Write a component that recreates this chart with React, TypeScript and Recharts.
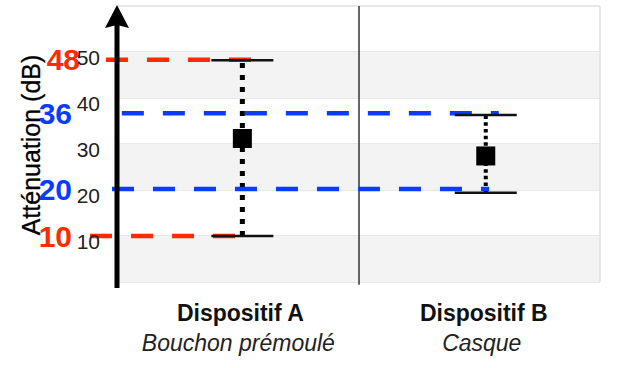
import React from 'react';
import {
  ScatterChart, Scatter, XAxis, YAxis, CartesianGrid, ReferenceLine, ReferenceArea,
} from 'recharts';

// ---- data ----
const categories = ['Dispositif A', 'Dispositif B'];
const subtitles = ['Bouchon prémoulé', 'Casque'];
const positions = [0.516, 1.526];
const lows = [10, 19.4];
const highs = [48.2, 36.3];
const means = [31.2, 27.4];

const yTicks = [0, 10, 20, 30, 40, 50, 60];
const bandLows = [0, 20, 40];
const bandHighs = [10, 30, 50];

const refValues = [48.3, 36.7, 20.2, 10];
const refLabels = ['48', '36', '20', '10'];
const refFrom = [-0.05, 0.016, -0.025, -0.116];
const refTo = [0.556, 1.58, 1.54, 0.49];
const refKinds = ['red', 'blue', 'blue', 'red'];

// ---- styles ----
const FONT = '"Liberation Sans", Arial, Helvetica, sans-serif';
const COLORS: Record<string, string> = { red: '#ff2a00', blue: '#0a3cff' };
const labelRight: Record<string, number> = { '48': 80, '36': 72, '20': 72, '10': 72 };
const dotStyles = [
  { width: 5, dash: '5 7' },
  { width: 4, dash: '3.5 3.2' },
];

const meanData = positions.map((x, i) => ({ x, y: means[i] }));
const capData = positions.flatMap((x, i) => [{ x, y: lows[i] }, { x, y: highs[i] }]);

const CapShape = (props: any) => {
  const { cx, cy } = props;
  return <line x1={cx - 31} x2={cx + 31} y1={cy} y2={cy} stroke="#111" strokeWidth={2.6} />;
};

const SquareShape = (props: any) => {
  const { cx, cy } = props;
  return <rect x={cx - 9.5} y={cy - 9.5} width={19} height={19} fill="#000" />;
};

const YTick = (props: any) => {
  const { y, payload } = props;
  if (payload.value === 0 || payload.value === 60) return <g />;
  return (
    <text x={100} y={y + 5} textAnchor="end" dominantBaseline="central"
      fontFamily={FONT} fontSize={21} fill="#222">
      {payload.value}
    </text>
  );
};

const XTick = (props: any) => {
  const { x, y, payload } = props;
  const i = positions.indexOf(payload.value);
  return (
    <g>
      <text x={x - 2} y={y + 23} textAnchor="middle" dominantBaseline="central"
        fontFamily={FONT} fontSize={23} fontWeight="bold" fill="#111">
        {categories[i]}
      </text>
      <text x={x - 4} y={y + 53} textAnchor="middle" dominantBaseline="central"
        fontFamily={FONT} fontSize={23} fontStyle="italic" fill="#222">
        {subtitles[i]}
      </text>
    </g>
  );
};

const AxisDecor = (props: any) => {
  const vb = props.viewBox || { x: 0, y: 6, width: 118, height: 276 };
  const ax = vb.x + vb.width - 1;
  const top = vb.y;
  const bottom = vb.y + vb.height;
  return (
    <g>
      <line x1={ax} x2={ax} y1={top + 14} y2={bottom + 6} stroke="#000" strokeWidth={5} />
      <polygon
        points={`${ax},${top - 1} ${ax - 12},${top + 22} ${ax},${top + 19} ${ax + 12},${top + 22}`}
        fill="#000"
      />
      <text
        x={vb.x + 31}
        y={top + vb.height / 2 + 1}
        transform={`rotate(-90, ${vb.x + 31}, ${top + vb.height / 2 + 1})`}
        textAnchor="middle"
        dominantBaseline="central"
        fontFamily={FONT}
        fontSize={25}
        fill="#000"
        stroke="#000"
        strokeWidth={0.3}
      >
        Atténuation (dB)
      </text>
    </g>
  );
};

export default function App() {
  return (
    <div style={{ position: 'absolute', left: 0, top: 0, width: 621, height: 368, background: '#fff' }}>
      <ScatterChart width={621} height={368} margin={{ top: 6, right: 21, bottom: 0, left: 0 }}>
        {bandLows.map((lo, i) => (
          <ReferenceArea key={`band${i}`} x1={0} x2={2} y1={lo} y2={bandHighs[i]}
            fill="#f3f3f3" fillOpacity={1} stroke="none" />
        ))}
        <CartesianGrid vertical={false} stroke="#e0e0e0" strokeWidth={1.5} />
        <XAxis type="number" dataKey="x" domain={[0, 2]} ticks={positions}
          axisLine={false} tickLine={false} height={86} tick={<XTick />} interval={0} />
        <YAxis type="number" dataKey="y" domain={[0, 60]} ticks={yTicks}
          axisLine={false} tickLine={false} width={118} tick={<YTick />} interval={0}
          label={(p: any) => <AxisDecor {...p} />} />
        <ReferenceLine x={2} stroke="#e0e0e0" strokeWidth={1.5} />
        <ReferenceLine segment={[{ x: 1, y: -0.6 }, { x: 1, y: 60 }]} stroke="#333"
          strokeWidth={1.5} ifOverflow="visible" />
        {positions.map((x, i) => (
          <ReferenceLine key={`dot${i}`} segment={[{ x, y: lows[i] }, { x, y: highs[i] }]}
            stroke="#000" strokeWidth={dotStyles[i].width} strokeDasharray={dotStyles[i].dash} />
        ))}
        <Scatter data={capData} shape={<CapShape />} isAnimationActive={false} />
        <Scatter data={meanData} shape={<SquareShape />} isAnimationActive={false} />
        {refValues.map((v, i) => (
          <ReferenceLine
            key={`ref${i}`}
            segment={[{ x: refFrom[i], y: v }, { x: refTo[i], y: v }]}
            stroke={COLORS[refKinds[i]]}
            strokeWidth={4.5}
            strokeDasharray="22 19"
            ifOverflow="visible"
            label={(p: any) => (
              <text x={labelRight[refLabels[i]]} y={p.viewBox ? p.viewBox.y : 0}
                textAnchor="end" dominantBaseline="central" fontFamily={FONT}
                fontSize={30} fontWeight="bold" fill={COLORS[refKinds[i]]}>
                {refLabels[i]}
              </text>
            )}
          />
        ))}
      </ScatterChart>
    </div>
  );
}
